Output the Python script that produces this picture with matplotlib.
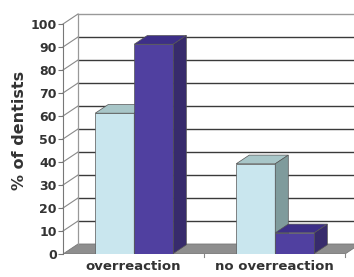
import matplotlib
matplotlib.use("Agg")
import matplotlib.pyplot as plt
from matplotlib.patches import Polygon
import numpy as np

# data
categories = ["overreaction", "no overreaction"]
light_vals = [61, 39]
dark_vals = [91, 9]
yticks = list(range(0, 101, 10))

# colours
light_front, light_top, light_side = "#c9e6ee", "#a8c6c8", "#7f9b9c"
dark_front, dark_top, dark_side = "#5040a0", "#3d2f88", "#372b6c"
txt = "#333333"

fig = plt.figure(figsize=(3.54, 2.77), dpi=100)
W, H = 354, 277
ax = fig.add_axes([55 / W, 23 / H, (W - 55) / W, 241 / H])

px_x = 141.0  # pixels per category unit
px_y = 2.3    # pixels per percent
x0 = -0.5
ax.set_xlim(x0 - 8 / px_x, x0 + 291 / px_x)
ax.set_ylim(0, 241 / px_y)

# depth of the 3d box, in data units
dx = 15 / px_x
dy = 10 / px_y
xr = 1.5

# floor
ax.add_patch(Polygon([(x0, 0), (xr, 0), (xr + dx, dy), (x0 + dx, dy)],
                     closed=True, fc="#8e8e8e", ec="#777777", lw=0.6, zorder=1))

# back wall + side wall grid
for v in yticks[1:]:
    c = "#999999" if v == 100 else "#3a3a3a"
    ax.plot([x0 + dx, xr + dx + 1], [v + dy, v + dy], color=c, lw=1.0, zorder=1)
    ax.plot([x0, x0 + dx], [v, v + dy], color="#888888", lw=0.8, zorder=1)
ax.plot([x0 + dx, x0 + dx], [dy, 100 + dy], color="#999999", lw=0.9, zorder=1)

# category separator ticks on floor edge
for b in [0.5, 1.5]:
    ax.plot([b, b], [0, -1.5], color="#888888", lw=0.8, clip_on=False, zorder=2)

# bars
w = 0.277
t0, t1 = 0.05, 0.92
bx = t0 * dx
by = t0 * dy
ddx = (t1 - t0) * dx
ddy = (t1 - t0) * dy
pos = np.arange(len(categories))


def bar3d(xs, vals, front, top, side):
    ax.bar(xs + bx, vals, w, bottom=by, color=front, edgecolor="#555555",
           lw=0.5, zorder=3, align="center")
    for x, v in zip(xs, vals):
        l = x + bx - w / 2
        r = x + bx + w / 2
        t = v + by
        ax.add_patch(Polygon([(l, t), (r, t), (r + ddx, t + ddy), (l + ddx, t + ddy)],
                             closed=True, fc=top, ec="#555555", lw=0.5, zorder=3))
        ax.add_patch(Polygon([(r, by), (r + ddx, by + ddy), (r + ddx, t + ddy), (r, t)],
                             closed=True, fc=side, ec="#555555", lw=0.5, zorder=3))


bar3d(pos - w / 2, light_vals, light_front, light_top, light_side)
bar3d(pos + w / 2, dark_vals, dark_front, dark_top, dark_side)

# axes
for s in ["top", "right", "bottom"]:
    ax.spines[s].set_visible(False)
ax.spines["left"].set_position(("data", x0))
ax.spines["left"].set_bounds(0, 100)
ax.spines["left"].set_color("#777777")
ax.set_yticks(yticks)
ax.set_yticklabels([str(v) for v in yticks], fontsize=9, fontweight="bold", color=txt)
ax.tick_params(axis="y", length=3.5, width=0.8, color="#777777", pad=1)
ax.set_xticks(pos)
ax.set_xticklabels(categories, fontsize=9.5, fontweight="bold", color=txt)
ax.tick_params(axis="x", length=0, pad=4)

fig.text(20 / W, 1 - 130 / H, "% of dentists", rotation=90, fontsize=11.5,
         fontweight="bold", color=txt, ha="center", va="center")

fig.savefig("out.png", dpi=100)
